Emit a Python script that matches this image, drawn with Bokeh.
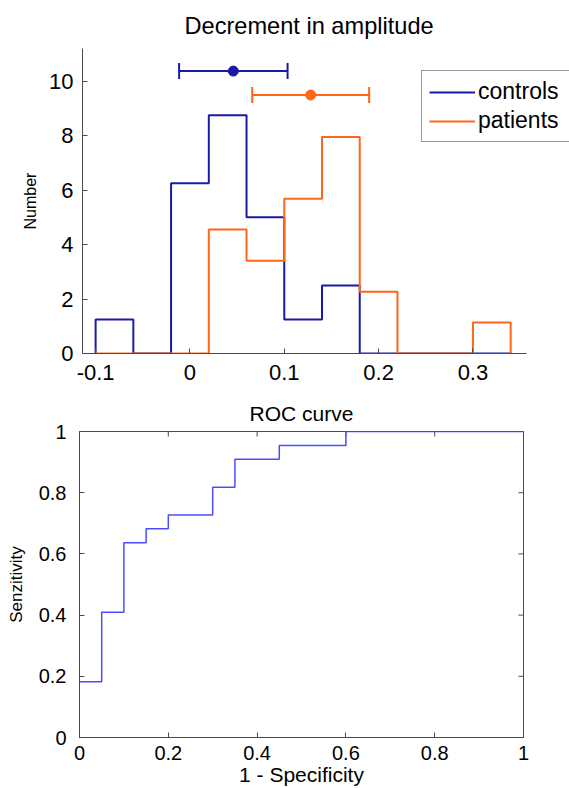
import math
from bokeh.plotting import figure
from bokeh.models import (Range1d, FixedTicker, Legend, LegendItem,
                          Whisker, ColumnDataSource, TeeHead)
from bokeh.embed import file_html
from bokeh.resources import INLINE

# ---------------- data ----------------
bin_edges = [-0.10, -0.06, -0.02, 0.02, 0.06, 0.10, 0.14, 0.18, 0.22, 0.26, 0.30, 0.34]
controls_hist = [1.25, 0.0, 6.25, 8.75, 5.0, 1.25, 2.5, 0.0, 0.0, 0.0, 0.0]
patients_hist = [0.0, 0.0, 0.0, 4.55, 3.41, 5.68, 7.95, 2.27, 0.0, 0.0, 1.14]

controls_mean = 0.046
controls_sd = 0.0575
controls_level = 10.37
patients_mean = 0.128
patients_sd = 0.062
patients_level = 9.49

hist_xticks = [-0.1, 0.0, 0.1, 0.2, 0.3]
hist_xtick_labels = ["-0.1", "0", "0.1", "0.2", "0.3"]
hist_yticks = [0, 2, 4, 6, 8, 10]
hist_ytick_labels = ["0", "2", "4", "6", "8", "10"]
hist_xlim = (-0.1139, 0.3568)
hist_ylim = (0, 11.2)

roc_fpr = [0.0, 0.05, 0.10, 0.15, 0.20, 0.30, 0.35, 0.45, 0.60, 1.0]
roc_tpr = [0.1818, 0.4091, 0.6364, 0.6818, 0.7273, 0.8182, 0.9091, 0.9545, 1.0, 1.0]
roc_ticks = [0.0, 0.2, 0.4, 0.6, 0.8, 1.0]
roc_tick_labels = ["0", "0.2", "0.4", "0.6", "0.8", "1"]

# ---------------- style ----------------
FONT = "Liberation Sans"
BLUE = "#1a1aa8"
ORANGE = "#ff661a"
ROC_BLUE = "#4d4dff"
AX = "#4a4a4a"
W = 569


def style_axis(ax, size):
    ax.axis_line_color = AX
    ax.major_tick_line_color = AX
    ax.minor_tick_line_color = None
    ax.major_tick_in = 5
    ax.major_tick_out = 0
    ax.major_label_text_font = FONT
    ax.major_label_text_font_size = size
    ax.major_label_text_color = "black"
    ax.axis_label_text_font = FONT
    ax.axis_label_text_font_style = "normal"
    ax.axis_label_text_color = "black"


def outline(edges, vals):
    xs = [edges[0]] + list(edges)
    ys = [0.0] + list(vals) + [0.0]
    return xs, ys


# ---------------- histogram figure ----------------
# frame spans from x=82 px to the right canvas edge; the axis line stops at hist_xlim[1]
px_per_unit = 943.3
x_end = hist_xlim[0] + (W - 82) / px_per_unit
p1 = figure(width=W, height=392, x_range=Range1d(hist_xlim[0], x_end), y_range=Range1d(*hist_ylim),
            output_backend="svg", toolbar_location=None,
            min_border_left=82, min_border_right=0, min_border_top=48, min_border_bottom=39,
            title="Decrement in amplitude")
p1.outline_line_color = None
p1.grid.visible = False
p1.title.align = "left"
p1.title.offset = 102
p1.title.text_font = FONT
p1.title.text_font_size = "23.6px"
p1.title.text_font_style = "normal"
p1.title.text_color = "black"
p1.title.standoff = 20

for ax in p1.xaxis + p1.yaxis:
    style_axis(ax, "22px")
p1.xaxis.ticker = FixedTicker(ticks=hist_xticks)
p1.xaxis.major_label_overrides = dict(zip(hist_xticks, hist_xtick_labels))
p1.xaxis.major_label_standoff = 11
p1.xaxis.bounds = hist_xlim
p1.yaxis.ticker = FixedTicker(ticks=hist_yticks)
p1.yaxis.major_label_overrides = dict(zip(hist_yticks, hist_ytick_labels))
p1.yaxis.major_label_standoff = 9
p1.yaxis.axis_label = "Number"
p1.yaxis.axis_label_text_font_size = "16px"
p1.yaxis.axis_label_standoff = 7

cx, cy = outline(bin_edges, controls_hist)
px, py = outline(bin_edges, patients_hist)
r_c = p1.step(cx, cy, mode="after", line_color=BLUE, line_width=2)
r_p = p1.step(px, py, mode="after", line_color=ORANGE, line_width=2)

for mean, sd, lvl, col in [(controls_mean, controls_sd, controls_level, BLUE),
                           (patients_mean, patients_sd, patients_level, ORANGE)]:
    src = ColumnDataSource(dict(base=[lvl], lower=[mean - sd], upper=[mean + sd]))
    wk = Whisker(source=src, base="base", lower="lower", upper="upper", dimension="width",
                 line_color=col, line_width=2,
                 upper_head=TeeHead(size=16, line_color=col, line_width=2),
                 lower_head=TeeHead(size=16, line_color=col, line_width=2))
    p1.add_layout(wk)
    p1.scatter([mean], [lvl], size=10, color=col)

leg = Legend(items=[LegendItem(label="controls", renderers=[r_c]),
                    LegendItem(label="patients", renderers=[r_p])],
             location=(339, 211), margin=0, padding=7, spacing=2,
             glyph_width=46, glyph_height=26, label_standoff=3,
             label_width=200, label_height=26,
             label_text_font=FONT, label_text_font_size="23px", label_text_color="black",
             border_line_color="#333333", border_line_width=1,
             background_fill_color="white", background_fill_alpha=1.0)
p1.add_layout(leg, "center")

# ---------------- ROC figure ----------------
p2 = figure(width=W, height=396, x_range=Range1d(0, 1), y_range=Range1d(0, 1),
            output_backend="svg", toolbar_location=None,
            min_border_left=79, min_border_right=46, min_border_top=39, min_border_bottom=51,
            title="ROC curve")
p2.grid.visible = False
p2.outline_line_color = AX
p2.outline_line_width = 1
p2.title.align = "center"
p2.title.text_font = FONT
p2.title.text_font_size = "21px"
p2.title.text_font_style = "normal"
p2.title.text_color = "black"
p2.title.standoff = 14

for ax in p2.xaxis + p2.yaxis:
    style_axis(ax, "20px")
    ax.ticker = FixedTicker(ticks=roc_ticks)
    ax.major_label_overrides = dict(zip(roc_ticks, roc_tick_labels))
p2.xaxis.major_label_standoff = 8
p2.yaxis.major_label_standoff = 13
p2.xaxis.axis_label = "1 - Specificity"
p2.xaxis.axis_label_text_font_size = "21px"
p2.xaxis.axis_label_standoff = 0
p2.yaxis.axis_label = "Senzitivity"
p2.yaxis.axis_label_text_font_size = "17px"
p2.yaxis.axis_label_standoff = 10

# inward ticks on the top and right edges of the box
n = len(roc_ticks)
p2.ray(x=roc_ticks, y=[p2.y_range.end] * n, length=5, length_units="screen",
       angle=-math.pi / 2, line_color=AX, line_width=1)
p2.ray(x=[p2.x_range.end] * n, y=roc_ticks, length=5, length_units="screen",
       angle=math.pi, line_color=AX, line_width=1)

p2.step(roc_fpr, roc_tpr, mode="after", line_color=ROC_BLUE, line_width=1.5)

open("out.html", "w").write(file_html([p1, p2], INLINE))
